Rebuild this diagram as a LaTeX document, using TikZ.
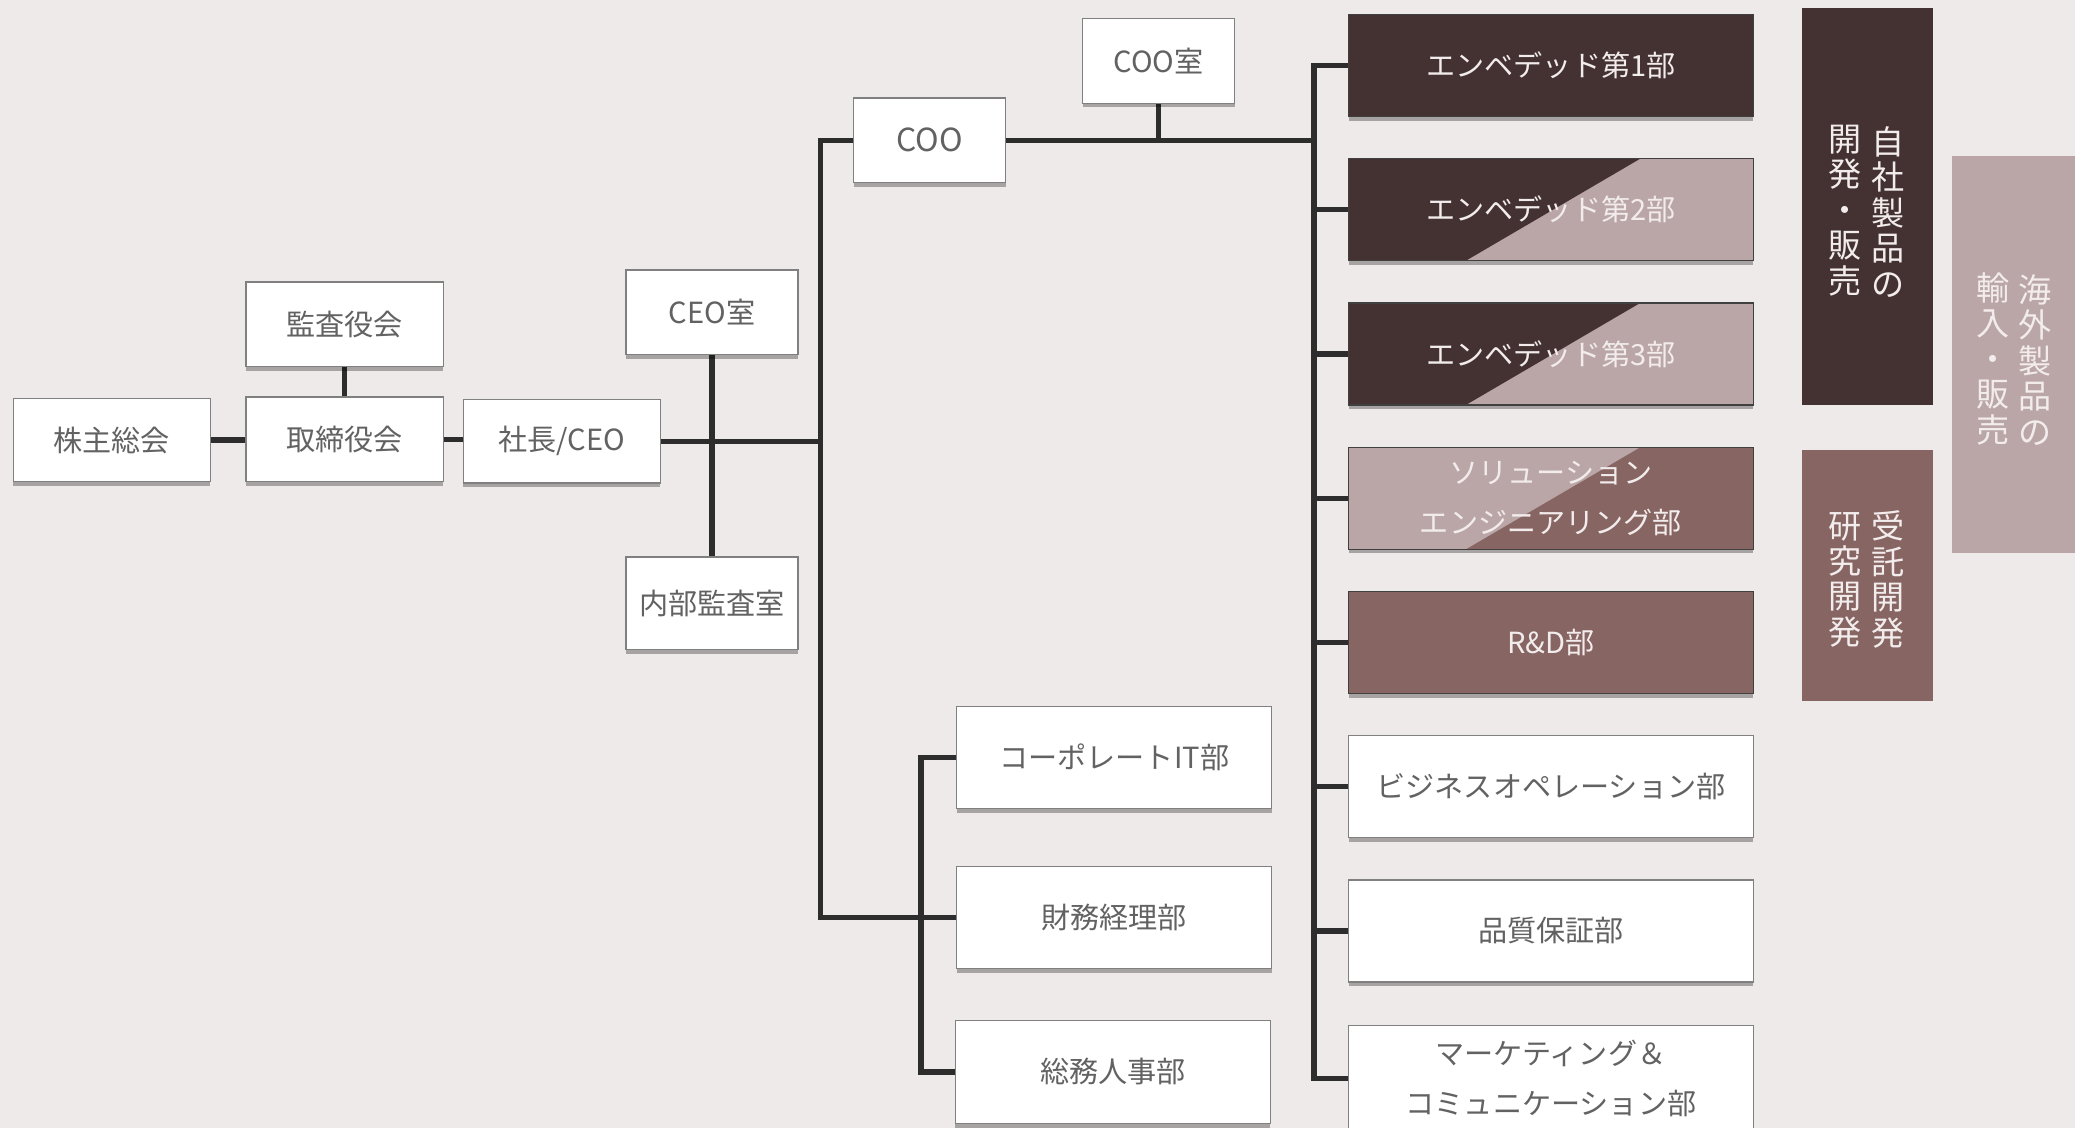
\documentclass[tikz,border=0pt]{standalone}
\usepackage{fontspec}
\setmainfont{Noto Sans CJK JP}
\usetikzlibrary{shadows,calc,backgrounds}
\definecolor{bgc}{HTML}{EEEAE9}
\definecolor{dk}{HTML}{443233}
\definecolor{md}{HTML}{876563}
\definecolor{lc}{HTML}{BBA6A7}
\definecolor{ln}{HTML}{2D2D2D}
\definecolor{tx}{HTML}{626262}
\definecolor{wt}{HTML}{F2ECEC}
\begin{document}
\begin{tikzpicture}[x=0.5pt,y=-0.5pt,
  wh/.style 2 args={minimum width=#1*0.5pt, minimum height=#2*0.5pt},
  box/.style={draw=black!50, line width=0.5pt, fill=white, text=tx,
    font=\fontsize{11pt}{19pt}\selectfont, align=center, inner sep=0pt,
    drop shadow={shadow xshift=0pt, shadow yshift=-1.6pt, opacity=0.3, fill=black}},
  dbox/.style={box, draw=black!75, text=wt},
  diagA/.style={path picture={\fill[#1] (path picture bounding box.north west) --
     ($(path picture bounding box.north west)!0.72!(path picture bounding box.north east)$) --
     ($(path picture bounding box.south west)!0.29!(path picture bounding box.south east)$) --
     (path picture bounding box.south west) -- cycle;}},
  side/.style={inner sep=0pt, draw=none},
  vt/.style={text=wt, align=center, inner sep=0pt, font=\fontsize{12.5pt}{13.4pt}\selectfont},
  conn/.style={draw=ln, line width=2pt, line cap=rect, line join=miter}
]
\useasboundingbox (0,0) rectangle (1568,852);

% left part
\node[box, wh={149}{63}] (kabu) at (84.5,332.5) {株主総会};
\node[box, wh={149}{64}] (kansa) at (260.5,245) {監査役会};
\node[box, wh={149}{64}] (tori) at (260.5,332) {取締役会};
\node[box, wh={149}{63}] (ceo) at (424.5,333.5) {社長/CEO};
\node[box, wh={130}{64}] (ceor) at (538,236) {CEO室};
\node[box, wh={130}{70}] (naibu) at (538,456) {内部監査室};
\node[box, wh={115}{64}] (coo) at (702.5,106) {\fontsize{12pt}{19pt}\selectfont COO};
\node[box, wh={115}{64}] (coor) at (875.5,46) {COO室};
\node[box, wh={238}{77}] (cit) at (842,572.5) {コーポレートIT部};
\node[box, wh={238}{77}] (zaimu) at (842,693.5) {財務経理部};
\node[box, wh={238}{78}] (somu) at (841,810) {総務人事部};

% right column
\node[dbox, fill=dk, wh={306}{77}] (e1) at (1172,49.5) {エンベデッド第1部};
\node[dbox, fill=lc, diagA=dk, wh={306}{77}] (e2) at (1172,158.5) {エンベデッド第2部};
\node[dbox, fill=lc, diagA=dk, wh={306}{77}] (e3) at (1172,267.5) {エンベデッド第3部};
\node[dbox, fill=md, diagA=lc, wh={306}{77}] (sol) at (1172,376.5) {ソリューション\\エンジニアリング部};
\node[dbox, fill=md, wh={306}{77}] (rd) at (1172,485.5) {R\&D部};
\node[box, wh={306}{77}] (biz) at (1172,594.5) {ビジネスオペレーション部};
\node[box, wh={306}{77}] (qa) at (1172,703.5) {品質保証部};
\node[box, wh={306}{80}] (mk) at (1172,815) {マーケティング＆\\コミュニケーション部};

% side labels
\node[side, fill=dk, wh={99}{300}] (s1) at (1411.5,156) {};
\node[vt] (s1a) at (1427,160) {自\\社\\製\\品\\の};
\node[vt] (s1b) at (1394,159) {開\\発\\・\\販\\売};
\node[side, fill=md, wh={99}{190}] (s2) at (1411.5,435) {};
\node[vt] (s2a) at (1427,438) {受\\託\\開\\発};
\node[vt] (s2b) at (1394,438) {研\\究\\開\\発};
\node[side, fill=lc, wh={96}{300}] (s3) at (1523,268) {};
\node[vt] (s3a) at (1538,272) {海\\外\\製\\品\\の};
\node[vt] (s3b) at (1506,271) {輸\\入\\・\\販\\売};

\begin{scope}[on background layer]
\fill[bgc] (0,0) rectangle (1568,852);
\coordinate (tA) at (620,106);
\coordinate (tB) at (620,693.5);
\coordinate (j1) at (620,333.5);
\coordinate (rt) at (993,0);
\coordinate (lb) at (696,0);
\draw[conn] (kabu.east) -- (kabu.east -| tori.west);
\draw[conn] (kansa) -- (tori);
\draw[conn] (tori.east) -- (tori.east -| ceo.west);
\draw[conn] (ceo.east) -- (j1);
\draw[conn] (ceor) -- (naibu);
\draw[conn] (coo.west) -- (tA) -- (tB) -- (zaimu.west);
\draw[conn] (coo.east) -- (coo.east -| rt);
\draw[conn] (coor.south) -- (coor.south |- coo.east);
\draw[conn] (e1.west) -- (e1.west -| rt) -- (mk.west -| rt) -- (mk.west);
\foreach \n in {e2,e3,sol,rd,biz,qa} \draw[conn] (\n.west) -- (\n.west -| rt);
\draw[conn] (cit.west) -- (cit.west -| lb) -- (somu.west -| lb) -- (somu.west);
\end{scope}
\end{tikzpicture}
\end{document}
